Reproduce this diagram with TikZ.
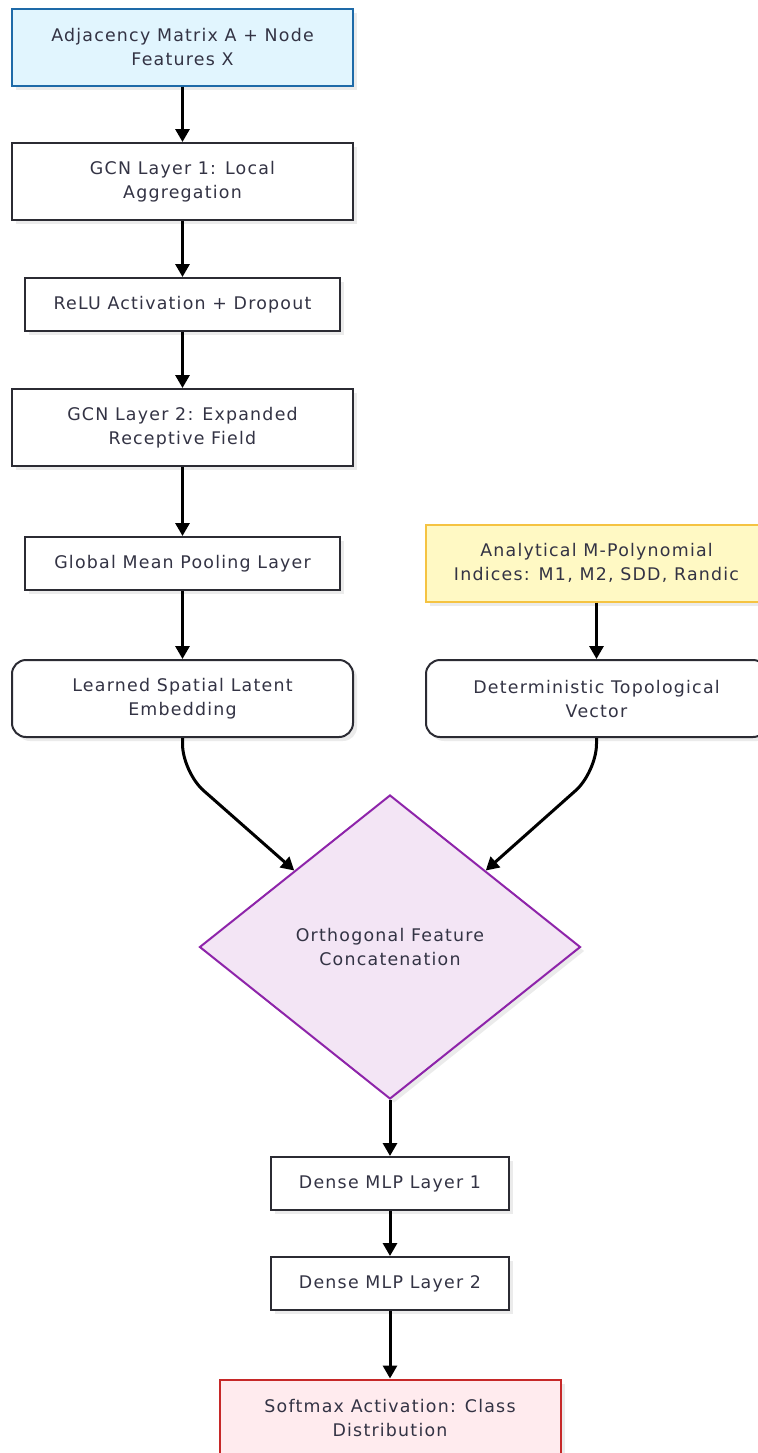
\documentclass[tikz,border=0pt]{standalone}
\usepackage{fontspec}
\setmainfont{DejaVu Sans}[LetterSpace=7]
\usetikzlibrary{shapes.geometric,arrows.meta,shadows,calc}
\definecolor{txt}{HTML}{333344}
\definecolor{edge}{HTML}{2B2B33}
\definecolor{bluefill}{HTML}{E1F5FE}
\definecolor{blueedge}{HTML}{1E6AA8}
\definecolor{yelfill}{HTML}{FFF9C4}
\definecolor{yeledge}{HTML}{F5C342}
\definecolor{purfill}{HTML}{F3E5F5}
\definecolor{puredge}{HTML}{8E24AA}
\definecolor{redfill}{HTML}{FFEBEE}
\definecolor{rededge}{HTML}{C62828}
\tikzset{
  stepbox/.style={draw=edge, line width=1pt, fill=white, align=center, text=txt,
    font=\fontsize{8.7}{12}\selectfont, inner sep=0pt,
    drop shadow={shadow xshift=2pt, shadow yshift=-2pt, fill=black!8, opacity=1}},
  widebox/.style={stepbox, minimum width=170.5pt, minimum height=38.5pt},
  midbox/.style={stepbox, minimum width=157.5pt, minimum height=26.5pt},
  smallbox/.style={stepbox, minimum width=119pt, minimum height=26.5pt},
  roundbox/.style={widebox, rounded corners=7pt},
  arr/.style={line width=1.5pt, draw=black, -{Triangle[width=7pt,length=6.5pt]}},
}
\begin{document}
\begin{tikzpicture}[x=0.5pt,y=-0.5pt]
\useasboundingbox (0,0) rectangle (758,1453);
\node[widebox, fill=bluefill, draw=blueedge] (inp) at (182.5,47) {Adjacency Matrix A + Node\\Features X};
\node[widebox] (g1) at (182.5,181.5) {GCN Layer 1: Local\\Aggregation};
\node[midbox] (relu) at (182.5,304.5) {ReLU Activation + Dropout};
\node[widebox] (g2) at (182.5,427.5) {GCN Layer 2: Expanded\\Receptive Field};
\node[midbox] (pool) at (182.5,563.5) {Global Mean Pooling Layer};
\node[roundbox] (lat) at (182.5,698.5) {Learned Spatial Latent\\Embedding};
\node[widebox, fill=yelfill, draw=yeledge] (poly) at (596.5,563) {Analytical M-Polynomial\\Indices: M1, M2, SDD, Randic};
\node[roundbox] (topo) at (596.5,698.5) {Deterministic Topological\\Vector};
\node[diamond, draw=puredge, line width=1pt, fill=purfill, text=txt, align=center,
  font=\fontsize{8.7}{12}\selectfont, inner sep=0pt, minimum width=190.5pt, minimum height=152pt,
  drop shadow={shadow xshift=2pt, shadow yshift=-2pt, fill=black!8, opacity=1}]
  (cat) at (390,947) {Orthogonal Feature\\Concatenation};
\node[smallbox] (d1) at (390,1183.5) {Dense MLP Layer 1};
\node[smallbox] (d2) at (390,1283.5) {Dense MLP Layer 2};
\node[widebox, fill=redfill, draw=rededge] (soft) at (390,1418) {Softmax Activation: Class\\Distribution};

\draw[arr] (inp) -- (g1);
\draw[arr] (g1) -- (relu);
\draw[arr] (relu) -- (g2);
\draw[arr] (g2) -- (pool);
\draw[arr] (pool) -- (lat);
\draw[arr] (poly) -- (topo);
\coordinate (cl) at ($(cat.west)!0.5!(cat.north)$);
\coordinate (cr) at ($(cat.east)!0.5!(cat.north)$);
\draw[arr, rounded corners=14pt] (lat.south) -- ++(0,34) -- (cl);
\draw[arr, rounded corners=14pt] (topo.south) -- ++(0,34) -- (cr);
\draw[arr] (cat.south) -- (d1);
\draw[arr] (d1) -- (d2);
\draw[arr] (d2) -- (soft);
\end{tikzpicture}
\end{document}
